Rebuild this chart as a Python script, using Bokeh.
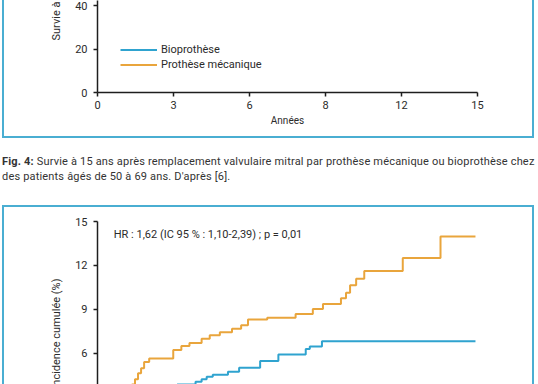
from bokeh.plotting import figure
from bokeh.models import Range1d, FixedTicker, Label, Legend, LegendItem, Div, Title
from bokeh.layouts import column
from bokeh.embed import file_html
from bokeh.resources import INLINE

# ---------------- Fig. 4 (upper chart, only its bottom part is visible) ----------------
surv_x_ticks = [0, 3, 6, 9, 12, 15]
surv_x_tick_labels = ["0", "3", "6", "8", "12", "15"]
surv_y_ticks = [0, 20, 40, 60, 80, 100]
surv_series = ["Bioprothèse", "Prothèse mécanique"]
surv_x_label = "Années"
surv_y_label = "Survie à 15 ans (%)"
# the survival curves lie above the visible crop: none of their points can be read
surv_bio_t, surv_bio_s = [float("nan")], [float("nan")]
surv_mec_t, surv_mec_s = [float("nan")], [float("nan")]

caption_bold = "Fig. 4:"
caption_line1 = "Survie à 15 ans après remplacement valvulaire mitral par prothèse mécanique ou bioprothèse chez"
caption_line2 = "des patients âgés de 50 à 69 ans. D'après [6]."

# ---------------- lower chart: cumulative incidence ----------------
inc_y_ticks = [0, 3, 6, 9, 12, 15]
inc_y_label = "Incidence cumulée (%)"
hr_text = "HR : 1,62 (IC 95 % : 1,10-2,39) ; p = 0,01"
bio_t = [0, 3.15, 3.87, 4.11, 4.31, 4.55, 5.15, 5.59, 6.42, 7.14, 8.22, 8.38, 8.86, 14.92]
bio_y = [0, 3.85, 4.03, 4.20, 4.37, 4.51, 4.72, 5.00, 5.45, 5.90, 6.28, 6.45, 6.80, 6.80]
mec_t = [0, 1.36, 1.48, 1.60, 1.72, 1.84, 2.04, 2.99, 3.31, 3.63, 4.11, 4.43, 4.83, 5.31,
         5.67, 5.94, 6.70, 7.82, 8.50, 8.90, 9.61, 9.81, 9.97, 10.21, 10.53, 12.05, 13.54, 14.92]
mec_y = [0, 3.85, 4.20, 4.61, 4.96, 5.38, 5.62, 6.21, 6.48, 6.69, 6.97, 7.21, 7.42, 7.66,
         7.90, 8.29, 8.42, 8.67, 9.01, 9.36, 9.74, 10.12, 10.64, 11.09, 11.61, 12.51, 13.98, 13.98]

BLUE = "#2fa3cf"
ORANGE = "#e9a53c"
FRAME = "#4aaed2"
AXIS = "#1e1e1e"
TXT = "#2b2b2b"
FONT = "Roboto"


def style_axes(p):
    for ax in p.axis:
        ax.axis_line_color = AXIS
        ax.axis_line_width = 1.5
        ax.major_tick_line_color = AXIS
        ax.major_tick_line_width = 1.5
        ax.major_tick_out = 4
        ax.major_tick_in = 0
        ax.minor_tick_line_color = None
        ax.major_label_text_font = FONT
        ax.major_label_text_font_size = "11px"
        ax.major_label_text_color = TXT
        ax.axis_label_text_font = FONT
        ax.axis_label_text_font_size = "10px"
        ax.axis_label_text_font_style = "normal"
        ax.axis_label_text_color = TXT
    p.xgrid.visible = False
    p.ygrid.visible = False
    p.outline_line_color = None


def side_title(text, align, offset):
    return Title(text=text, align=align, offset=offset, standoff=20,
                 text_font=FONT, text_font_size="11px", text_font_style="normal",
                 text_color=TXT)


# ---- upper chart ----
pA = figure(width=528, height=136, x_range=Range1d(0, 15), y_range=Range1d(0, 42.35),
            output_backend="svg", toolbar_location=None,
            min_border_left=93, min_border_right=59, min_border_top=0, min_border_bottom=46,
            margin=(0, 0, 0, 2),
            styles={"box-sizing": "content-box",
                    "border-left": f"2px solid {FRAME}", "border-right": f"2px solid {FRAME}",
                    "border-bottom": f"2px solid {FRAME}"})
rA1 = pA.line(surv_bio_t, surv_bio_s, line_color=BLUE, line_width=2)
rA2 = pA.line(surv_mec_t, surv_mec_s, line_color=ORANGE, line_width=2)
pA.xaxis.ticker = FixedTicker(ticks=surv_x_ticks)
pA.xaxis.major_label_overrides = {t: l for t, l in zip(surv_x_ticks, surv_x_tick_labels)}
pA.yaxis.ticker = FixedTicker(ticks=surv_y_ticks)
pA.xaxis.axis_label = surv_x_label
style_axes(pA)
pA.xaxis.major_label_standoff = 4
pA.xaxis.axis_label_standoff = 3
pA.yaxis.major_label_standoff = 6
pA.add_layout(side_title(surv_y_label, "left", 52), "left")
legend = Legend(items=[LegendItem(label=surv_series[0], renderers=[rA1]),
                       LegendItem(label=surv_series[1], renderers=[rA2])],
                location=(23, 20), glyph_width=37, glyph_height=15, label_height=15,
                label_standoff=4, spacing=0, padding=0, margin=0,
                border_line_alpha=0, background_fill_alpha=0,
                label_text_font=FONT, label_text_font_size="11px", label_text_color=TXT)
pA.add_layout(legend)

# ---- caption ----
cap = Div(text=(f'<div style="font-family:{FONT};font-size:11px;letter-spacing:0.18px;'
                f'line-height:15px;color:#333;white-space:nowrap;padding-top:16px;padding-left:2px;">'
                f'<b>{caption_bold}</b> {caption_line1}<br>{caption_line2}</div>'),
          width=538, height=67, margin=0)

# ---- lower chart ----
pB = figure(width=528, height=177, x_range=Range1d(0, 15), y_range=Range1d(3.71, 15),
            x_axis_location=None, output_backend="svg", toolbar_location=None,
            min_border_left=93, min_border_right=59, min_border_top=14, min_border_bottom=0,
            margin=(0, 0, 0, 2),
            styles={"box-sizing": "content-box",
                    "border-left": f"2px solid {FRAME}", "border-right": f"2px solid {FRAME}",
                    "border-top": f"2px solid {FRAME}"})
pB.step(mec_t, mec_y, mode="after", line_color=ORANGE, line_width=2)
pB.step(bio_t, bio_y, mode="after", line_color=BLUE, line_width=2)
pB.yaxis.ticker = FixedTicker(ticks=inc_y_ticks)
style_axes(pB)
pB.yaxis.major_label_standoff = 6
pB.add_layout(Label(x=0.64, y=14.1, text=hr_text, text_baseline="middle", text_font=FONT,
                    text_font_size="11px", text_color=TXT))
pB.add_layout(side_title(inc_y_label, "right", 57), "left")

layout = column(pA, cap, pB)

open("out.html", "w").write(file_html(layout, INLINE))
